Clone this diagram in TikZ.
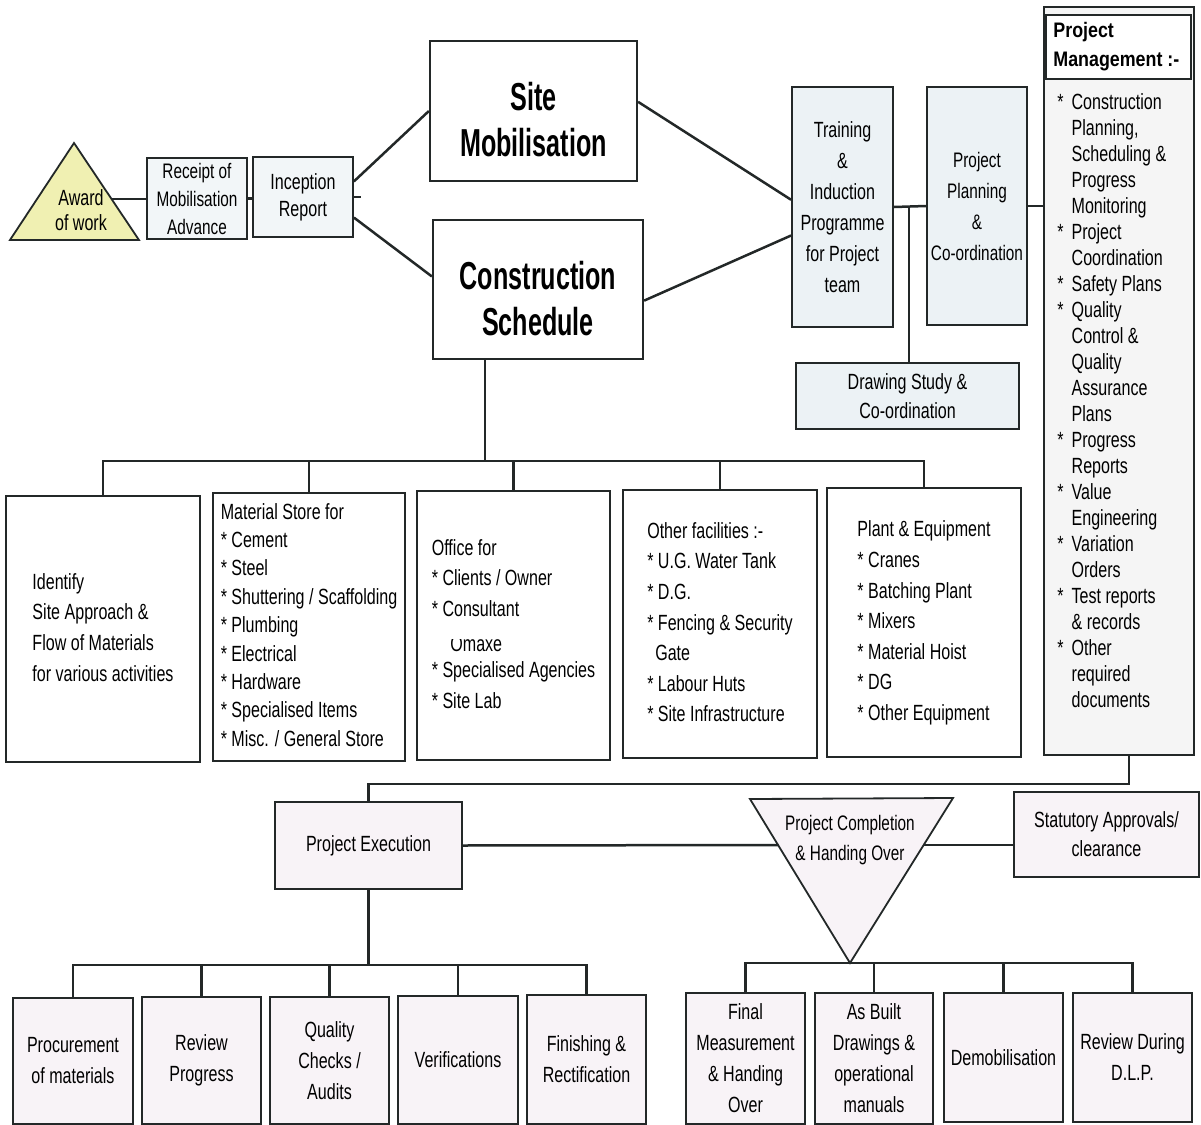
\documentclass[tikz,border=0pt]{standalone}
\usepackage{fontspec}
\setmainfont{Liberation Sans}[FakeStretch=0.73]
\newfontfamily\bigfont{Liberation Sans}[FakeStretch=0.645]
\newfontfamily\hdfont{Liberation Sans}[FakeStretch=0.85]
\newcommand{\bu}{*~}
\definecolor{lc}{RGB}{35,40,40}
\definecolor{yel}{RGB}{240,240,178}
\definecolor{blu}{RGB}{236,242,245}
\definecolor{blu2}{RGB}{242,246,248}
\definecolor{pnk}{RGB}{248,243,247}
\definecolor{gry}{RGB}{245,245,245}
\begin{document}
\begin{tikzpicture}[x=0.5pt,y=-0.5pt,
  ln/.style={draw=lc,line width=1.25pt},
  bx/.style={draw=lc,line width=0.9pt,inner sep=0pt,align=center,font=\fontsize{11}{15.5}\selectfont},
  wh/.style 2 args={minimum width=#1*0.5pt,minimum height=#2*0.5pt},
  lst/.style={bx,font=\fontsize{11}{15.3}\selectfont},
  big/.style={draw=lc,line width=1.1pt,inner sep=0pt,fill=white},
  bigt/.style={inner sep=0pt,align=center,font=\bigfont\bfseries\fontsize{19.5}{23}\selectfont},
  txt/.style={inner sep=0pt,align=center,font=\fontsize{11}{12.5}\selectfont}
]
\useasboundingbox (0,0) rectangle (1201,1125);
\fill[white] (0,0) rectangle (1201,1125);

% --- award triangle
\coordinate (awA) at (74,143);
\coordinate (awL) at (10,240);
\coordinate (awR) at (139,240);
\filldraw[fill=yel,draw=lc,line width=0.9pt] (awA) -- (awL) -- (awR) -- cycle;
\node[txt] (award) at (81,210) {Award\\of work};
\coordinate (awE) at (111.5,199);

\node[bx,fill=blu2,wh={100}{81},font=\fontsize{10.5}{14}\selectfont] (receipt) at (197,198.5) {Receipt of\\Mobilisation\\Advance};
\node[bx,fill=blu2,wh={100}{80},font=\fontsize{11}{13.5}\selectfont] (inception) at (303,197) {Inception\\Report};

\node[big,wh={207}{140}] (sm) at (533.5,111) {};
\node[bigt] (smt) at (533.5,119.5) {Site\\Mobilisation};
\node[big,wh={210}{139}] (cs) at (538,289.5) {};
\node[bigt] (cst) at (538,299) {Construction\\Schedule};

\node[bx,fill=blu,wh={101}{240}] (tr) at (842.5,207) {Training\\\&\\Induction\\Programme\\for Project\\team};
\node[bx,fill=blu,wh={100}{238},font=\fontsize{10.5}{15.5}\selectfont] (pp) at (977,206) {Project\\Planning\\\&\\Co-ordination};
\node[bx,fill=blu,wh={223}{66},font=\fontsize{11}{14.5}\selectfont] (dr) at (907.5,396) {Drawing Study \&\\Co-ordination};

% --- project management
\node[draw=lc,line width=0.9pt,fill=gry,inner sep=0pt,wh={150}{748}] (pm) at (1119,381) {};
\node[draw=lc,line width=0.9pt,fill=white,inner sep=0pt,wh={145}{64}] (pmh) at (1118.5,47) {};
\node[anchor=west,inner sep=0pt,align=left,font=\hdfont\bfseries\fontsize{10.5}{14.5}\selectfont] (pmht) at (1053,47) {Project\\Management :-};
\node[anchor=north west,inner sep=0pt,font=\fontsize{11}{13}\selectfont] (pmlist) at (1057,91) {%
\begin{tabular}{@{}l@{\hspace{4pt}}l@{}}
{*} & Construction\\
  & Planning,\\
  & Scheduling \&\\
  & Progress\\
  & Monitoring\\
{*} & Project\\
  & Coordination\\
{*} & Safety Plans\\
{*} & Quality\\
  & Control \&\\
  & Quality\\
  & Assurance\\
  & Plans\\
{*} & Progress\\
  & Reports\\
{*} & Value\\
  & Engineering\\
{*} & Variation\\
  & Orders\\
{*} & Test reports\\
  & \& records\\
{*} & Other\\
  & required\\
  & documents
\end{tabular}};

% --- middle row
\node[lst,fill=white,wh={194}{266},font=\fontsize{11}{15.35}\selectfont] (m1) at (103,629) {%
\begin{tabular}{@{}l@{}}Identify\\Site Approach \&\\Flow of Materials\\for various activities\end{tabular}};
\node[lst,fill=white,wh={192}{268},font=\fontsize{11}{14.2}\selectfont] (m2) at (309,627) {%
\begin{tabular}{@{}l@{}}Material Store for\\\bu Cement\\\bu Steel\\\bu Shuttering / Scaffolding\\\bu Plumbing\\\bu Electrical\\\bu Hardware\\\bu Specialised Items\\\bu Misc. / General Store\end{tabular}};
\node[lst,fill=white,wh={193}{269}] (m3) at (513.5,625.5) {%
\begin{tabular}{@{}l@{}}Office for\\\bu Clients / Owner\\\bu Consultant\\\mbox{}\\\bu Specialised Agencies\\\bu Site Lab\end{tabular}};
\node[lst,fill=white,wh={194}{268}] (m4) at (720,624) {%
\begin{tabular}{@{}l@{}}Other facilities :-\\\bu U.G. Water Tank\\\bu D.G.\\\bu Fencing \& Security\\\hspace*{4pt}Gate\\\bu Labour Huts\\\bu Site Infrastructure\end{tabular}};
\node[lst,fill=white,wh={194}{269}] (m5) at (924,622.5) {%
\begin{tabular}{@{}l@{}}Plant \& Equipment\\\bu Cranes\\\bu Batching Plant\\\bu Mixers\\\bu Material Hoist\\\bu DG\\\bu Other Equipment\end{tabular}};
\begin{scope}
\clip (440,639.5) rectangle (520,657);
\node[anchor=base west,inner sep=0pt,font=\fontsize{11}{13}\selectfont] (omaxe) at (450,651) {Omaxe};
\end{scope}

% --- execution / completion
\node[bx,fill=pnk,wh={187}{87}] (pe) at (368.5,845.5) {Project Execution};
\coordinate (cpL) at (750,799);
\coordinate (cpR) at (953,798);
\coordinate (cpA) at (850,963);
\filldraw[fill=pnk,draw=lc,line width=0.9pt] (cpL) -- (cpR) -- (cpA) -- cycle;
\node[txt,font=\fontsize{10.5}{15}\selectfont] (compl) at (850,840) {Project Completion\\\& Handing Over};
\coordinate (cpLe) at (778.6,845);
\coordinate (cpRe) at (923.5,845);
\node[bx,fill=pnk,wh={185}{85},font=\fontsize{11}{14.5}\selectfont] (stat) at (1106.5,834.5) {Statutory Approvals/\\clearance};

% --- bottom rows
\node[bx,fill=pnk,wh={120}{126}] (b1) at (73,1061) {Procurement\\of materials};
\node[bx,fill=pnk,wh={119}{127}] (b2) at (201.5,1060.5) {Review\\Progress};
\node[bx,fill=pnk,wh={119}{127}] (b3) at (329.5,1060.5) {Quality\\Checks /\\Audits};
\node[bx,fill=pnk,wh={120}{128}] (b4) at (458,1060) {Verifications};
\node[bx,fill=pnk,wh={119}{129}] (b5) at (586.5,1059.5) {Finishing \&\\Rectification};
\node[bx,fill=pnk,wh={119}{131}] (c1) at (745.5,1058.5) {Final\\Measurement\\\& Handing\\Over};
\node[bx,fill=pnk,wh={118}{131}] (c2) at (874,1058.5) {As Built\\Drawings \&\\operational\\manuals};
\node[bx,fill=pnk,wh={119}{129}] (c3) at (1003.5,1057.5) {Demobilisation};
\node[bx,fill=pnk,wh={119}{129}] (c4) at (1132.5,1057.5) {Review During\\D.L.P.};

% --- connectors
\draw[ln] (awE) -- (awE -| receipt.west);
\draw[ln] (receipt.east) -- (receipt.east -| inception.west);
\coordinate (instub) at (361,197);
\draw[ln] (inception.east |- instub) -- (instub);
\draw[ln] (inception.17) -- (sm.west);
\draw[ln] (inception.-22) -- (cs.173.5);
\draw[ln] (sm.5) -- (tr.172);
\draw[ln] (cs.-6) -- (tr.209);
\draw[ln] (tr.east) -- (pp.west);
\coordinate (ddrop) at (909,206);
\draw[ln] (ddrop) -- (ddrop |- dr.north);
\draw[ln] (pp.east) -- (pp.east -| pm.west);

\coordinate (mbus) at (485,461);
\draw[ln] (cs.south -| mbus) -- (mbus);
\draw[ln] (m1.north) |- (mbus) -| (m5.north);
\foreach \n in {m2,m3,m4} \draw[ln] (\n.north) -- (\n.north |- mbus);

\coordinate (pmd) at (1129,784);
\draw[ln] (pm.south -| pmd) -- (pmd) -| (pe.north);
\draw[ln] (pe.east) -- (cpLe);
\draw[ln] (cpRe) -- (cpRe -| stat.west);

\coordinate (lbus) at (368.5,965);
\draw[ln] (pe.south) -- (lbus);
\draw[ln] (b1.north) |- (lbus) -| (b5.north);
\foreach \n in {b2,b3,b4} \draw[ln] (\n.north) -- (\n.north |- lbus);
\draw[ln] (c1.north) |- (cpA) -| (c4.north);
\foreach \n in {c2,c3} \draw[ln] (\n.north) -- (\n.north |- cpA);
\end{tikzpicture}
\end{document}
